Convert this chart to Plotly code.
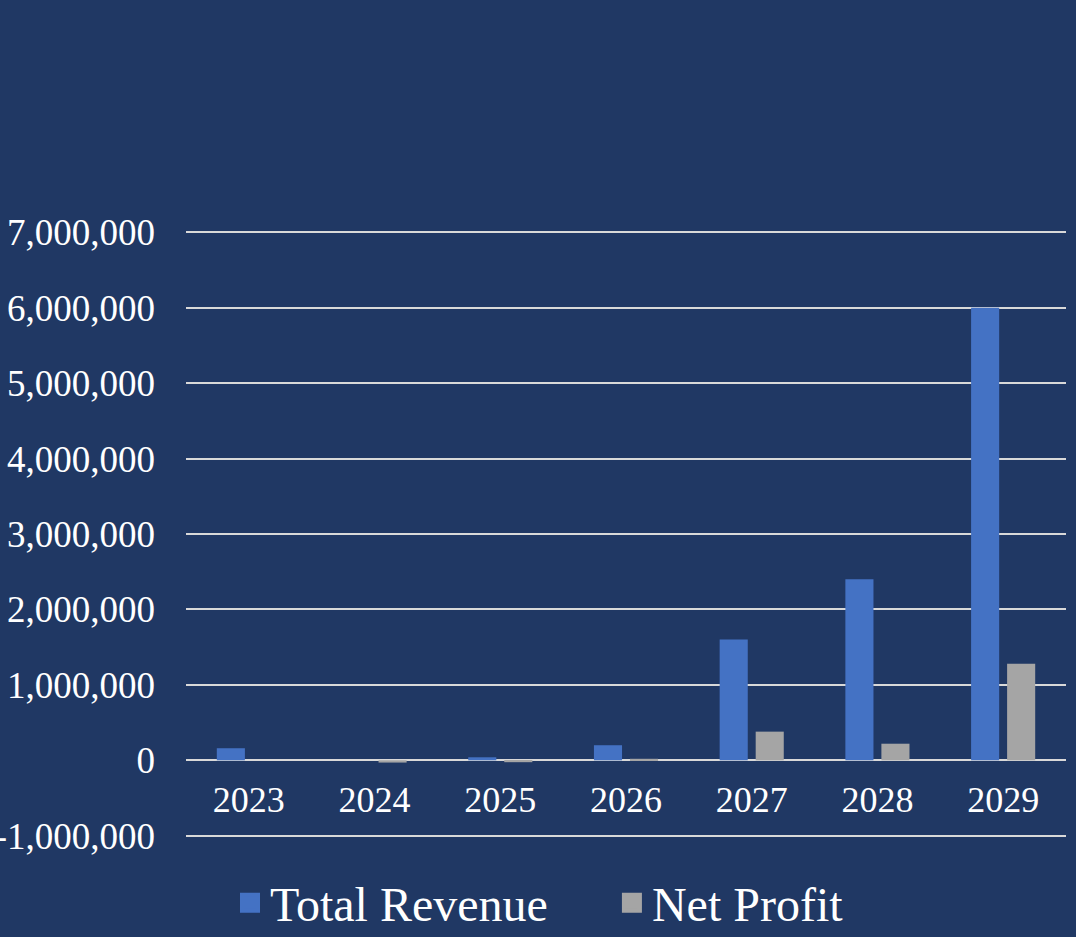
import plotly.graph_objects as go

years = ['2023', '2024', '2025', '2026', '2027', '2028', '2029']
total_revenue = [160000, 0, 40000, 200000, 1600000, 2400000, 6000000]
net_profit = [0, -30000, -25000, 20000, 380000, 220000, 1280000]

y_ticks = [-1000000, 0, 1000000, 2000000, 3000000, 4000000, 5000000, 6000000, 7000000]
y_labels = [f'{v:,}' for v in y_ticks]
y_min, y_max = -1000000, 7000000

BG = '#203864'
FONT = 'Liberation Serif, Times New Roman, serif'
REV_COLOR = '#4472C4'
NP_COLOR = '#A5A5A5'

fig = go.Figure()

fig.add_trace(go.Bar(
    x=years, y=total_revenue, name='Total Revenue', showlegend=False,
    marker=dict(color=REV_COLOR, line=dict(width=0)),
))
fig.add_trace(go.Bar(
    x=years, y=net_profit, name='Net Profit', showlegend=False,
    marker=dict(color=NP_COLOR, line=dict(width=0)),
))
# legend entries with bigger square swatches, one legend each so they can be spaced
for name, col, lg in [('Total Revenue', REV_COLOR, 'legend'), ('Net Profit', NP_COLOR, 'legend2')]:
    fig.add_trace(go.Scatter(
        x=[None], y=[None], mode='markers', name=name, legend=lg,
        marker=dict(symbol='square', size=16, color=col, line=dict(width=4, color=col)),
    ))

# x axis labels sit on the zero line, like the original chart
pad = 30000
lo, hi = y_min - pad, y_max + pad
zero_pos = (0 - lo) / (hi - lo)

leg_style = dict(orientation='h', xref='paper', xanchor='left',
                 yref='paper', y=-0.107, yanchor='middle',
                 font=dict(size=48, family=FONT), itemwidth=30)

fig.update_layout(
    width=1076, height=937,
    margin=dict(l=186, r=10, t=230, b=99, autoexpand=False),
    paper_bgcolor=BG, plot_bgcolor=BG,
    font=dict(family=FONT, color='white', size=37),
    barmode='group', bargap=0.427, bargroupgap=0.22,
    showlegend=True,
    legend=dict(x=0.05, **leg_style),
    legend2=dict(x=0.484, **leg_style),
    xaxis=dict(anchor='free', position=zero_pos, showline=False, ticks='',
               showgrid=False, tickfont=dict(size=36), ticklabelstandoff=15,
               automargin=False),
    yaxis=dict(range=[lo, hi], tickvals=y_ticks, ticktext=y_labels,
               showgrid=True, gridcolor='#d9d9d9', gridwidth=2,
               zeroline=True, zerolinecolor='#d9d9d9', zerolinewidth=2,
               ticks='', ticklabelstandoff=30, automargin=False,
               tickfont=dict(size=37)),
)

fig.write_html("out.html", config={'displayModeBar': False},
               post_script="document.body.style.margin='0';")
